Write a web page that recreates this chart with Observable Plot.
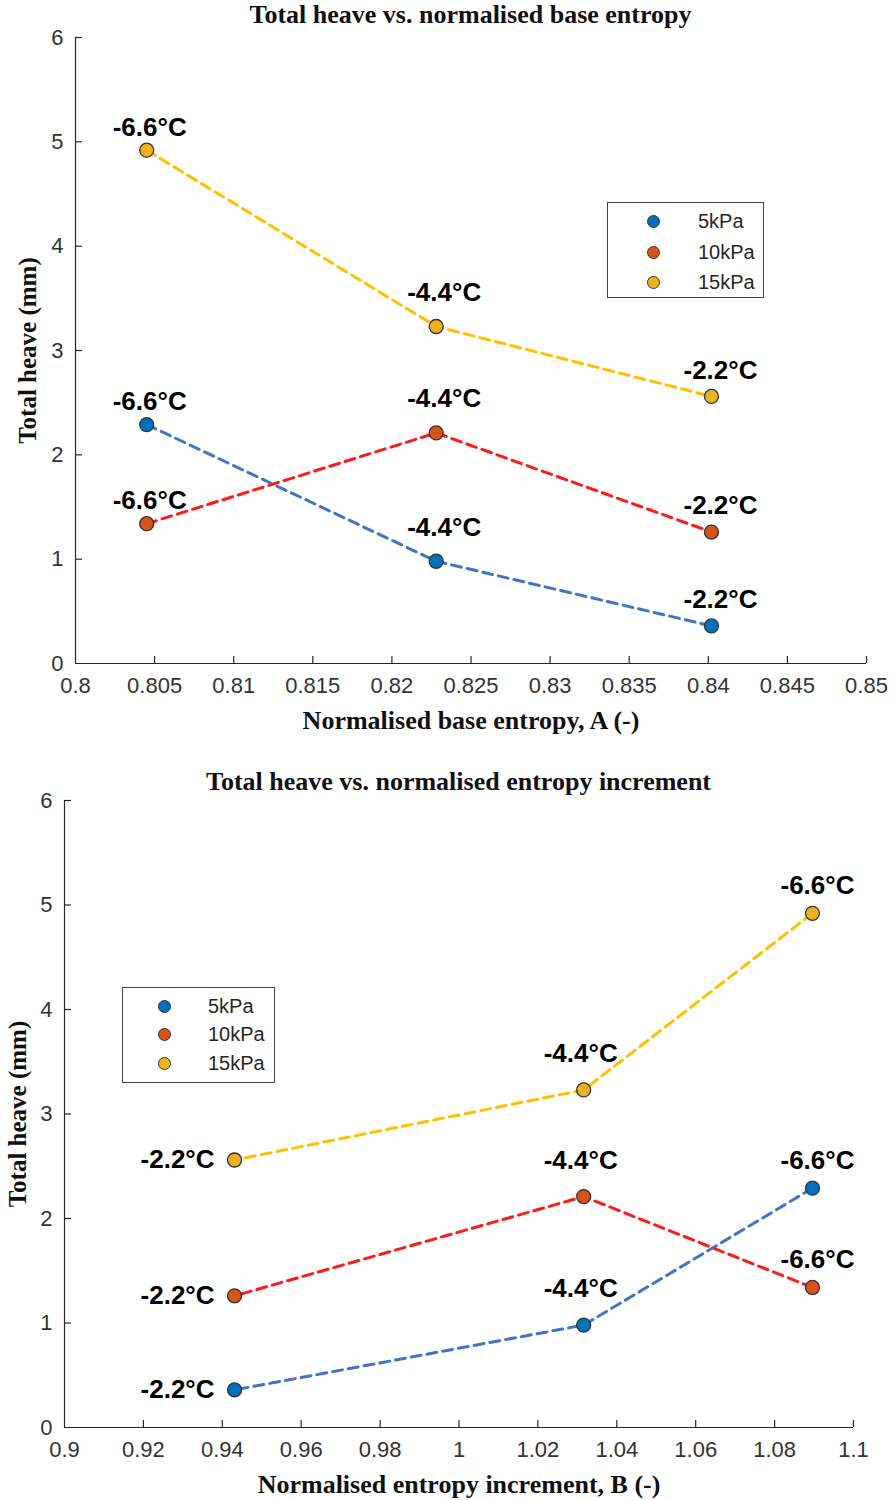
<!DOCTYPE html>
<html>
<head>
<meta charset="utf-8">
<script src="https://cdn.jsdelivr.net/npm/d3@7"></script>
<script src="https://cdn.jsdelivr.net/npm/@observablehq/plot@0.6"></script>
<style>
  body { margin: 0; background: #fff; width: 896px; height: 1500px; position: relative; overflow: hidden; }
  .title { position: absolute; text-align: center; font-family: "Liberation Serif", "Times New Roman", serif; font-weight: bold; font-size: 26px; line-height: 28px; color: #111; white-space: nowrap; }
  .chart { position: absolute; left: 0; }
  .legend { position: absolute; border: 1.3px solid #444; background: #fff; font-family: "Liberation Sans", Arial, sans-serif; font-size: 20px; color: #262626; box-sizing: border-box; }
  .legend .row { position: absolute; left: 0; height: 24px; line-height: 24px; white-space: nowrap; }
  .legend .sw { position: absolute; width: 13px; height: 13px; border-radius: 50%; border: 1.3px solid #333; box-sizing: border-box; top: 5.5px; }
  .legend .lab { position: absolute; top: 0; }
</style>
</head>
<body>
<script>
// ---------- data ----------
const series = ["5kPa", "10kPa", "15kPa"];
const temps = ["-6.6°C", "-4.4°C", "-2.2°C"];
const baseEntropyA = [0.8045, 0.8228, 0.8402];
const entropyIncrementB = [1.0896, 1.0316, 0.9431];
const heave5kPa = [2.29, 0.98, 0.36];
const heave10kPa = [1.34, 2.21, 1.26];
const heave15kPa = [4.92, 3.23, 2.56];
const heaves = [heave5kPa, heave10kPa, heave15kPa];

const yTicks = [0, 1, 2, 3, 4, 5, 6];
const xTicksA = [0.8, 0.805, 0.81, 0.815, 0.82, 0.825, 0.83, 0.835, 0.84, 0.845, 0.85];
const xTickLabelsA = ["0.8", "0.805", "0.81", "0.815", "0.82", "0.825", "0.83", "0.835", "0.84", "0.845", "0.85"];
const xTicksB = [0.9, 0.92, 0.94, 0.96, 0.98, 1, 1.02, 1.04, 1.06, 1.08, 1.1];
const xTickLabelsB = ["0.9", "0.92", "0.94", "0.96", "0.98", "1", "1.02", "1.04", "1.06", "1.08", "1.1"];

const title1 = "Total heave vs. normalised base entropy";
const title2 = "Total heave vs. normalised entropy increment";
const xLabel1 = "Normalised base entropy, A (-)";
const xLabel2 = "Normalised entropy increment, B (-)";
const yLabel = "Total heave (mm)";

// ---------- styles ----------
const markerColors = ["#0072BD", "#D95319", "#EDB120"];
const lineColors = ["#4472C4", "#FF1A1A", "#FFC000"];
const axisColor = "#262626";
const sansFont = '"Liberation Sans", Arial, Helvetica, sans-serif';
const serifFont = '"Liberation Serif", "Times New Roman", serif';

function makeRows(xs) {
  const rows = [];
  series.forEach((s, si) => heaves[si].forEach((h, i) => rows.push({series: s, si, temp: temps[i], x: xs[i], y: h})));
  return rows;
}

function chart({xs, xDomain, xTicks, xTickLabels, marginLeft, marginRight, marginTop, marginBottom, height, xLabel, yLabelDx, labelStyles}) {
  const width = 896;
  const rows = makeRows(xs);
  const plotH = height - marginTop - marginBottom;
  const plotW = width - marginLeft - marginRight;
  const marks = [
    Plot.ruleY([0], {stroke: axisColor, strokeWidth: 1.2}),
    Plot.ruleX([xDomain[0]], {stroke: axisColor, strokeWidth: 1.2}),
    Plot.tickX(xTicks.slice(1), {x: d => d, insetTop: plotH - 7, stroke: axisColor, strokeWidth: 1.2}),
    Plot.tickY(yTicks.slice(1), {y: d => d, insetRight: plotW - 7, stroke: axisColor, strokeWidth: 1.2}),
    Plot.axisX(xTicks, {tickSize: 0, tickPadding: 14, tickFormat: d => xTickLabels[xTicks.indexOf(d)], label: null, fill: "#333", fontSize: 22}),
    Plot.axisY(yTicks, {tickSize: 0, tickPadding: 12, tickFormat: d => String(d), label: null, fill: "#333", fontSize: 22}),
    ...series.map((s, si) => Plot.line(rows.filter(r => r.si === si), {
      x: "x", y: "y", stroke: lineColors[si], strokeWidth: 3, strokeDasharray: "10,6"
    })),
    Plot.dot(rows, {x: "x", y: "y", r: 7, fill: d => markerColors[d.si], stroke: "#333", strokeWidth: 1.3}),
    ...labelStyles.map(ls => Plot.text(rows.filter(r => r.temp === ls.temp), {
      x: "x", y: "y", text: "temp", dx: ls.dx, dy: ls.dy, textAnchor: ls.anchor || "middle",
      fontSize: 26, fontWeight: "bold", fill: "#000", fontFamily: sansFont
    })),
    Plot.text([xLabel], {text: d => d, frameAnchor: "bottom", textAnchor: "middle", lineAnchor: "middle", dy: 57, fontFamily: serifFont, fontWeight: "bold", fontSize: 26, fill: "#111"}),
    Plot.text([yLabel], {text: d => d, frameAnchor: "left", textAnchor: "middle", lineAnchor: "middle", rotate: -90, dx: yLabelDx, fontFamily: serifFont, fontWeight: "bold", fontSize: 25, fill: "#111"})
  ];
  return Plot.plot({
    width, height, marginLeft, marginRight, marginTop, marginBottom,
    x: {domain: xDomain},
    y: {domain: [0, 6]},
    style: {fontFamily: sansFont, fontSize: "22px", background: "#fff", overflow: "visible"},
    marks
  });
}

function legend(left, top, w, h, markerX, textX, rowYs) {
  const el = document.createElement("div");
  el.className = "legend";
  Object.assign(el.style, {left: left + "px", top: top + "px", width: w + "px", height: h + "px"});
  series.forEach((s, si) => {
    const row = document.createElement("div");
    row.className = "row";
    row.style.top = (rowYs[si] - 12) + "px";
    row.style.width = "100%";
    const sw = document.createElement("span");
    sw.className = "sw";
    sw.style.left = (markerX - 6.5) + "px";
    sw.style.background = markerColors[si];
    const lab = document.createElement("span");
    lab.className = "lab";
    lab.style.left = textX + "px";
    lab.textContent = s;
    row.appendChild(sw); row.appendChild(lab);
    el.appendChild(row);
  });
  return el;
}

const root = document.body;

// ---- chart 1 ----
const t1 = document.createElement("div");
t1.className = "title"; t1.textContent = title1;
Object.assign(t1.style, {left: "75px", width: (896 - 75 - 30) + "px", top: "1px"});
root.appendChild(t1);

const c1 = chart({
  xs: baseEntropyA, xDomain: [0.8, 0.85], xTicks: xTicksA, xTickLabels: xTickLabelsA,
  marginLeft: 75, marginRight: 30, marginTop: 7, marginBottom: 87, height: 720,
  xLabel: xLabel1, yLabelDx: -48,
  labelStyles: [
    {temp: "-6.6°C", dx: 3, dy: -23},
    {temp: "-4.4°C", dx: 8, dy: -34},
    {temp: "-2.2°C", dx: 9, dy: -26}
  ]
});
c1.classList.add("chart"); c1.style.top = "30px";
root.appendChild(c1);
root.appendChild(legend(607, 202, 157, 96, 45, 90, [18, 49, 79]));

// ---- chart 2 ----
const t2 = document.createElement("div");
t2.className = "title"; t2.textContent = title2;
Object.assign(t2.style, {left: "64px", width: (896 - 64 - 43) + "px", top: "768px"});
root.appendChild(t2);

const c2 = chart({
  xs: entropyIncrementB, xDomain: [0.9, 1.1], xTicks: xTicksB, xTickLabels: xTickLabelsB,
  marginLeft: 64, marginRight: 43, marginTop: 5, marginBottom: 73, height: 705,
  xLabel: xLabel2, yLabelDx: -47,
  labelStyles: [
    {temp: "-6.6°C", dx: 5, dy: -28},
    {temp: "-4.4°C", dx: -3, dy: -36},
    {temp: "-2.2°C", dx: -20, dy: 0, anchor: "end"}
  ]
});
c2.classList.add("chart"); c2.style.top = "795px";
root.appendChild(c2);
root.appendChild(legend(122, 987, 153, 96, 41, 85, [18, 46, 75]));
</script>
</body>
</html>
